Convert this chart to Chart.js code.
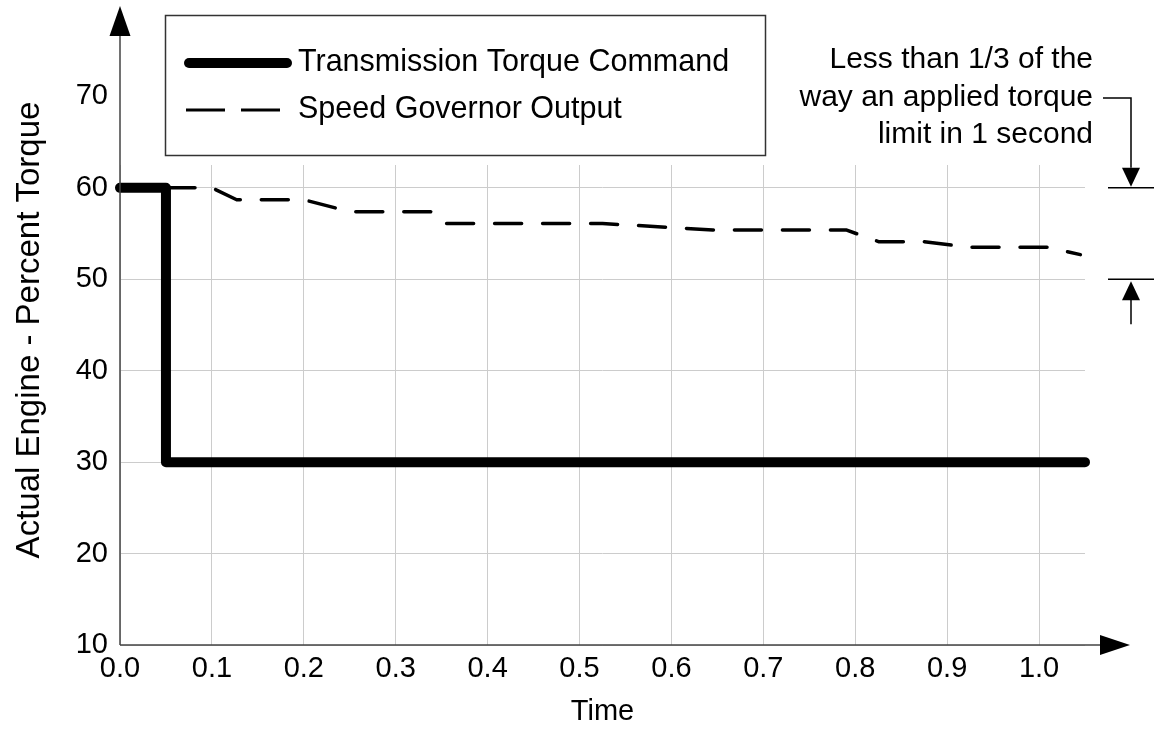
<!DOCTYPE html>
<html>
<head>
<meta charset="utf-8">
<script src="https://cdn.jsdelivr.net/npm/chart.js@4"></script>
<style>
  html, body { margin: 0; padding: 0; background: #fff; }
</style>
</head>
<body>
<canvas id="chart-1" width="1154" height="732"></canvas>
<script>
// data
const commandTime = [0, 0.05, 0.05, 1.05];
const commandTorque = [60, 60, 30, 30];
const governorTime = [0, 0.1, 0.127, 0.2, 0.25, 0.338, 0.35, 0.525, 0.645, 0.79, 0.826, 0.875, 0.926, 1.01, 1.045];
const governorTorque = [60, 60, 58.7, 58.7, 57.4, 57.4, 56.1, 56.1, 55.4, 55.4, 54.1, 54.1, 53.5, 53.5, 52.7];
const seriesNames = ["Transmission Torque Command", "Speed Governor Output"];
const extraYTick = 70; // label shown above the plotted area, no grid line
const noteLines = ["Less than 1/3 of the", "way an applied torque", "limit in 1 second"];

const FONT = "'Liberation Sans', Arial, sans-serif";
const AXIS = "#444";

function pts(xs, ys) {
  return xs.map((x, i) => ({ x: x, y: ys[i] }));
}

function tri(ctx, a, b, c) {
  ctx.beginPath();
  ctx.moveTo(a[0], a[1]);
  ctx.lineTo(b[0], b[1]);
  ctx.lineTo(c[0], c[1]);
  ctx.closePath();
  ctx.fill();
}

const decorations = {
  id: "decorations",
  afterDraw(chart) {
    const ctx = chart.ctx;
    const area = chart.chartArea;
    const ys = chart.scales.y;
    const x0 = area.left, y0 = area.bottom;
    ctx.save();

    // axes with arrow heads
    ctx.strokeStyle = AXIS;
    ctx.fillStyle = "#000";
    ctx.lineWidth = 1.5;
    ctx.beginPath();
    ctx.moveTo(x0, y0);
    ctx.lineTo(x0, 36);
    ctx.moveTo(x0, y0);
    ctx.lineTo(1100, y0);
    ctx.stroke();
    tri(ctx, [x0 - 10.5, 36], [x0 + 10.5, 36], [x0, 6]);
    tri(ctx, [1100, y0 - 10], [1100, y0 + 10], [1130, y0]);

    // y axis title, centred on the whole axis
    ctx.save();
    ctx.translate(30, 330);
    ctx.rotate(-Math.PI / 2);
    ctx.font = "33px " + FONT;
    ctx.fillStyle = "#000";
    ctx.textAlign = "center";
    ctx.textBaseline = "middle";
    ctx.fillText("Actual Engine - Percent Torque", 0, 0);
    ctx.restore();

    // legend box
    ctx.strokeStyle = "#333";
    ctx.lineWidth = 1.5;
    ctx.strokeRect(165.5, 15.5, 600, 140);
    ctx.strokeStyle = "#000";
    ctx.lineCap = "round";
    ctx.lineWidth = 10;
    ctx.beginPath();
    ctx.moveTo(189, 63);
    ctx.lineTo(287, 63);
    ctx.stroke();
    ctx.lineCap = "butt";
    ctx.lineWidth = 3;
    ctx.setLineDash([39, 16]);
    ctx.beginPath();
    ctx.moveTo(186, 110);
    ctx.lineTo(282, 110);
    ctx.stroke();
    ctx.setLineDash([]);
    ctx.font = "30.5px " + FONT;
    ctx.fillStyle = "#000";
    ctx.textAlign = "left";
    ctx.textBaseline = "middle";
    ctx.fillText(seriesNames[0], 298, 63);
    ctx.fillText(seriesNames[1], 298, 110);

    // note on the right
    ctx.font = "30px " + FONT;
    ctx.textAlign = "right";
    noteLines.forEach((t, i) => ctx.fillText(t, 1093, 60 + i * 37.5));
    const p60 = ys.getPixelForValue(60);
    const p50 = ys.getPixelForValue(50);
    ctx.strokeStyle = "#000";
    ctx.lineWidth = 1.5;
    ctx.beginPath();
    ctx.moveTo(1103, 98);
    ctx.lineTo(1131, 98);
    ctx.lineTo(1131, p60 - 20);
    ctx.moveTo(1108, p60);
    ctx.lineTo(1154, p60);
    ctx.moveTo(1108, p50);
    ctx.lineTo(1154, p50);
    ctx.moveTo(1131, p50 + 20);
    ctx.lineTo(1131, p50 + 45);
    ctx.stroke();
    tri(ctx, [1122, p60 - 20], [1140, p60 - 20], [1131, p60 - 1]);
    tri(ctx, [1122, p50 + 21], [1140, p50 + 21], [1131, p50 + 2]);

    ctx.restore();
  }
};

const ctx1 = document.getElementById("chart-1").getContext("2d");
const myChart = new Chart(ctx1, {
  type: "line",
  data: {
    datasets: [
      {
        label: seriesNames[0],
        data: pts(commandTime, commandTorque),
        borderColor: "#000",
        borderWidth: 10,
        borderCapStyle: "round",
        borderJoinStyle: "round",
        pointRadius: 0,
        tension: 0,
        clip: false,
      },
      {
        label: seriesNames[1],
        data: pts(governorTime, governorTorque),
        borderColor: "#000",
        borderWidth: 3.5,
        borderDash: [27, 21],
        borderCapStyle: "round",
        borderJoinStyle: "round",
        pointRadius: 0,
        tension: 0,
        clip: false,
      },
    ],
  },
  options: {
    responsive: false,
    animation: false,
    layout: { padding: { top: 165, right: 69, left: 0, bottom: 0 } },
    plugins: { legend: { display: false }, tooltip: { enabled: false } },
    scales: {
      x: {
        type: "linear",
        min: 0,
        max: 1.05,
        z: 1,
        border: { display: false },
        grid: { color: "#cccccc", lineWidth: 1, drawTicks: false },
        ticks: {
          stepSize: 0.1,
          includeBounds: false,
          padding: 7,
          color: "#000",
          font: { family: FONT, size: 29 },
          maxRotation: 0,
          autoSkip: false,
          callback: (v) => v.toFixed(1),
        },
        title: {
          display: true,
          text: "Time",
          color: "#000",
          font: { family: FONT, size: 29 },
          padding: { top: 0, bottom: 3 },
        },
        afterFit: (s) => { s.height = 87; },
      },
      y: {
        type: "linear",
        min: 10,
        max: 62.5,
        z: 1,
        border: { display: false },
        grid: {
          color: (c) => (c.tick && c.tick.value === extraYTick ? "rgba(0,0,0,0)" : "#cccccc"),
          lineWidth: 1,
          drawTicks: false,
        },
        ticks: {
          stepSize: 10,
          includeBounds: false,
          padding: 12,
          color: "#000",
          font: { family: FONT, size: 29 },
          autoSkip: false,
        },
        afterBuildTicks: (s) => { s.ticks.push({ value: extraYTick }); },
        afterFit: (s) => { s.width = 120; },
      },
    },
  },
  plugins: [decorations],
});
</script>
</body>
</html>
